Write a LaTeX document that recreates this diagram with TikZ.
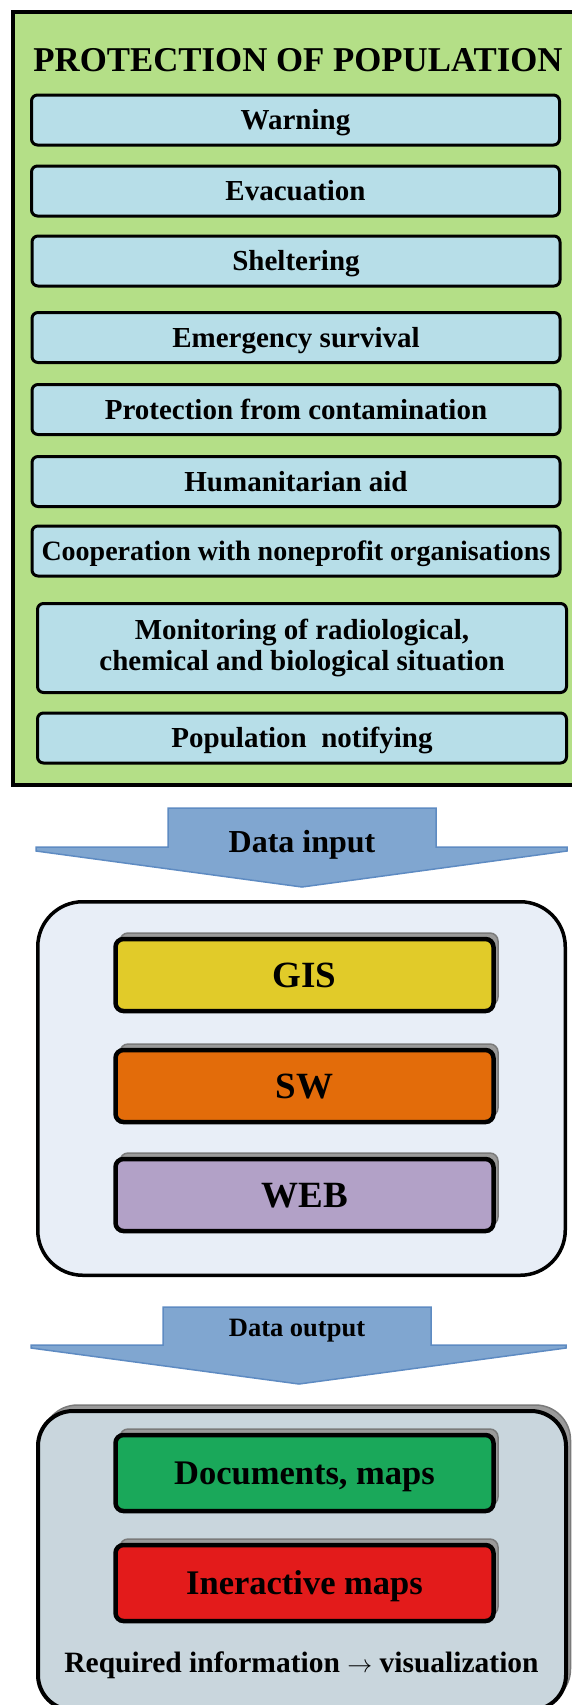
\documentclass[tikz,border=0pt]{standalone}
\usepackage{fontspec}
\setmainfont{Liberation Serif}
\usetikzlibrary{shadows}

\definecolor{panelgreen}{HTML}{B4DF87}
\definecolor{itemblue}{HTML}{B7DEE8}
\definecolor{arrowfill}{HTML}{80A6D0}
\definecolor{arrowline}{HTML}{5E8BC2}
\definecolor{toolpanel}{HTML}{E8EEF7}
\definecolor{gisyellow}{HTML}{E1CB29}
\definecolor{sworange}{HTML}{E36C0A}
\definecolor{webpurple}{HTML}{B2A1C7}
\definecolor{outpanel}{HTML}{C9D6DD}
\definecolor{docgreen}{HTML}{1AA85A}
\definecolor{mapred}{HTML}{E31B1B}
\definecolor{shadegray}{HTML}{9A9A9A}
\definecolor{shadeline}{HTML}{7A7A7A}

\tikzset{
  item/.style={draw=black, line width=3pt, fill=itemblue, rounded corners=6pt,
    minimum width=528pt, minimum height=50pt, inner sep=0pt,
    font=\fontsize{29}{31.5}\selectfont\bfseries, text height=19pt, text depth=0pt},
  grayshadow/.style={general shadow={shadow xshift=4.5pt, shadow yshift=6pt,
    fill=shadegray, draw=shadeline, line width=1.5pt}},
  tool/.style={draw=black, line width=4.5pt, rounded corners=8pt, grayshadow,
    minimum width=378pt, minimum height=72pt, inner sep=0pt,
    font=\fontsize{37}{40}\selectfont\bfseries, text height=24.5pt, text depth=0pt},
  outbox/.style={tool, font=\fontsize{34.5}{38}\selectfont\bfseries, text height=22.8pt,
    minimum height=76pt},
  blockarrow/.style={fill=arrowfill, draw=arrowline, line width=1.5pt, line join=miter},
  label/.style={inner sep=0pt, anchor=base}
}

\begin{document}
\begin{tikzpicture}[x=1pt, y=-1pt]
\useasboundingbox (0,0) rectangle (572,1705);
\clip (0,0) rectangle (572,1705);

% ---- protection of population panel ----
\node[draw=black, line width=4pt, fill=panelgreen, minimum width=587pt,
      minimum height=773pt, inner sep=0pt] (protect) at (306.5,398.5) {};
\node[label, font=\fontsize{34.8}{38}\selectfont\bfseries] (title) at (298,71)
  {PROTECTION OF POPULATION};

\node[item] (warn)  at (295.5,120)  {Warning};
\node[item] (evac)  at (295.5,191)  {Evacuation};
\node[item] (shelt) at (296,261)    {Sheltering};
\node[item] (surv)  at (296,337.5)  {Emergency survival};
\node[item] (cont)  at (296,409.5)  {Protection from contamination};
\node[item] (aid)   at (296,481.5)  {Humanitarian aid};
\node[item, font=\fontsize{28}{31}\selectfont\bfseries, text height=18.5pt] (coop) at (296,551)
  {Cooperation with noneprofit organisations};
\node[item, minimum width=529pt, minimum height=89pt, text height=, text depth=,
      align=center, font=\fontsize{29}{31.5}\selectfont\bfseries] (monit) at (302,648)
  {Monitoring of radiological,\\chemical and biological situation};
\node[item, minimum width=529pt] (notify) at (302,738) {Population~~notifying};

% ---- data input arrow ----
\draw[blockarrow] (168,808) -- (436,808) -- (436,847) -- (567,847) -- (567,851)
  -- (302,887) -- (36,851) -- (36,847) -- (168,847) -- cycle;
\node[label, font=\fontsize{32}{35}\selectfont\bfseries] (inlabel) at (302,852) {Data input};

% ---- tools panel ----
\node[draw=black, line width=3.5pt, fill=toolpanel, rounded corners=45pt,
      minimum width=527.5pt, minimum height=373.5pt, inner sep=0pt] (tools) at (301.5,1088.5) {};
\node[tool, fill=gisyellow] (gis) at (304.5,975)  {GIS};
\node[tool, fill=sworange]  (sw)  at (304.5,1086) {SW};
\node[tool, fill=webpurple] (web) at (304.5,1195) {WEB};

% ---- data output arrow ----
\draw[blockarrow] (163,1307) -- (431,1307) -- (431,1345) -- (566,1345) -- (566,1348)
  -- (299,1384) -- (31,1348) -- (31,1345) -- (163,1345) -- cycle;
\node[label, font=\fontsize{26.5}{29}\selectfont\bfseries] (outlabel) at (297,1336) {Data output};

% ---- output panel ----
\node[draw=black, line width=4pt, fill=outpanel, rounded corners=35pt, grayshadow,
      minimum width=528pt, minimum height=299pt, inner sep=0pt] (results) at (302,1560.5) {};
\node[outbox, fill=docgreen] (docs)  at (304.5,1473) {Documents, maps};
\node[outbox, fill=mapred]   (imaps) at (304.5,1583) {Ineractive maps};
\node[label, font=\fontsize{29.5}{32}\selectfont\bfseries] (visual) at (301.5,1672)
  {Required information $\rightarrow$ visualization};
\end{tikzpicture}
\end{document}
